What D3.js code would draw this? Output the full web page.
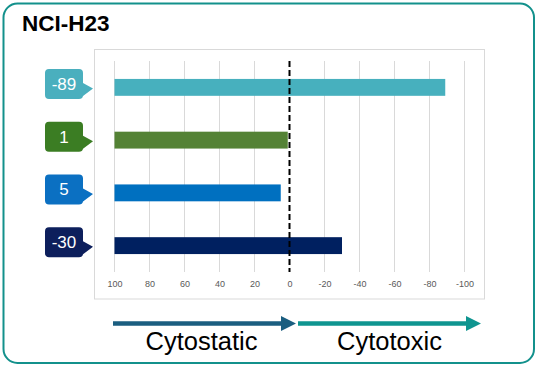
<!DOCTYPE html>
<html><head><meta charset="utf-8">
<script src="https://cdn.jsdelivr.net/npm/d3@7"></script>
<style>html,body{margin:0;padding:0;background:#fff;}svg{display:block;}</style>
</head><body>
<svg id="chart" width="538" height="368"></svg>
<script>
const title = "NCI-H23";
const categories = ["A", "B", "C", "D"];
const values = [-89, 1, 5, -30];
const labels = ["-89", "1", "5", "-30"];
const barColors = ["#47b0be", "#548235", "#0070c0", "#002060"];
const boxColors = ["#4aafbe", "#3b7d23", "#0b70c2", "#0d1f5c"];
const tickValues = [100, 80, 60, 40, 20, 0, -20, -40, -60, -80, -100];
const arrowLabels = ["Cytostatic", "Cytotoxic"];
const arrowColors = ["#1b5e80", "#0f9590"];

const svg = d3.select("#chart");
const font = "'Liberation Sans', Arial, sans-serif";

// outer border
svg.append("rect").attr("x", 3.5).attr("y", 3.5).attr("width", 530.5).attr("height", 359.5)
  .attr("rx", 14).attr("fill", "#fff").attr("stroke", "#13918c").attr("stroke-width", 2);

svg.append("text").attr("x", 22).attr("y", 31).text(title)
  .attr("font-family", font).attr("font-weight", "bold").attr("font-size", 22.5).attr("fill", "#000");

// plot frame
svg.append("rect").attr("x", 94.5).attr("y", 49.5).attr("width", 390).attr("height", 249.5)
  .attr("fill", "none").attr("stroke", "#d9d9d9").attr("stroke-width", 1);

const x = d3.scaleLinear().domain([100, -100]).range([114.5, 464.5]);
const y = d3.scaleBand().domain(categories).range([61, 272]).paddingInner(0.68).paddingOuter(0.34);

// gridlines
svg.append("g").selectAll("line").data(tickValues.filter(v => v !== 0)).join("line")
  .attr("x1", d => x(d)).attr("x2", d => x(d)).attr("y1", 61).attr("y2", 272)
  .attr("stroke", "#d9d9d9").attr("stroke-width", 1);

// axis labels
const axis = d3.axisBottom(x).tickValues(tickValues).tickSize(0).tickPadding(0).tickFormat(d => String(d));
const ag = svg.append("g").attr("transform", "translate(0,281)").call(axis);
ag.select(".domain").remove();
ag.selectAll("text").attr("font-family", font).attr("font-size", 9).attr("fill", "#595959");

// bars (from 100 to value)
svg.append("g").selectAll("rect").data(values).join("rect")
  .attr("x", x(100))
  .attr("y", (d, i) => y(categories[i]))
  .attr("width", d => x(d) - x(100))
  .attr("height", y.bandwidth())
  .attr("fill", (d, i) => barColors[i]);

// dashed zero line
svg.append("line").attr("x1", x(0)).attr("x2", x(0)).attr("y1", 61).attr("y2", 272)
  .attr("stroke", "#000").attr("stroke-width", 2).attr("stroke-dasharray", "6,3");

// callouts
const cg = svg.append("g").selectAll("g").data(values).join("g")
  .attr("transform", (d, i) => `translate(45,${y(categories[i]) + y.bandwidth() / 2 - 18.5})`);
cg.append("path")
  .attr("d", "M4,0 H34 Q38,0 38,4 V14 L48,19.5 L38,27 Q37.5,30 34,30 H4 Q0,30 0,26 V4 Q0,0 4,0 Z")
  .attr("fill", (d, i) => boxColors[i]);
cg.append("text").attr("x", 19).attr("y", 21).attr("text-anchor", "middle")
  .text((d, i) => labels[i])
  .attr("font-family", font).attr("font-size", 17).attr("fill", "#fff");

// arrows
const arrows = [[113, 296], [298, 481]];
arrows.forEach((a, i) => {
  const [x0, x1] = a, cy = 323.5, hl = 15, hh = 7.5, st = 2.3;
  svg.append("path")
    .attr("d", `M${x0},${cy - st} H${x1 - hl} V${cy - hh} L${x1},${cy} L${x1 - hl},${cy + hh} V${cy + st} H${x0} Z`)
    .attr("fill", arrowColors[i]);
  svg.append("text").attr("x", (x0 + x1) / 2 + (i === 0 ? -3 : 0)).attr("y", 350)
    .attr("text-anchor", "middle").text(arrowLabels[i])
    .attr("font-family", font).attr("font-size", 25.5).attr("fill", "#000");
});
</script>
</body></html>
